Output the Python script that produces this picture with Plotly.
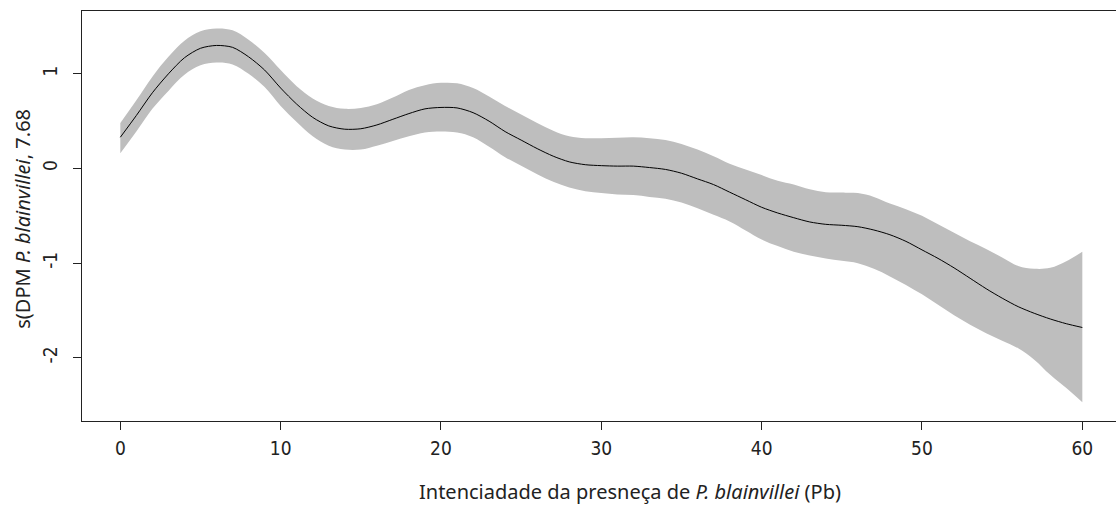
import plotly.graph_objects as go

# Mean smooth effect
x_mean = list(range(0, 61))
y_mean = [0.33, 0.56, 0.80, 1.00, 1.17, 1.27, 1.30, 1.28, 1.18, 1.04,
          0.85, 0.68, 0.54, 0.45, 0.415, 0.42, 0.46, 0.52, 0.58, 0.63,
          0.645, 0.64, 0.59, 0.50, 0.39, 0.30, 0.21, 0.13, 0.07, 0.04,
          0.03, 0.025, 0.025, 0.01, -0.01, -0.05, -0.11, -0.17, -0.25, -0.33,
          -0.41, -0.47, -0.52, -0.565, -0.59, -0.60, -0.615, -0.65, -0.70, -0.77,
          -0.86, -0.95, -1.05, -1.16, -1.27, -1.37, -1.46, -1.53, -1.59, -1.64,
          -1.68]

# Confidence band
x_band = list(range(0, 61))
y_upper = [0.48, 0.72, 0.97, 1.18, 1.35, 1.45, 1.48, 1.46, 1.36, 1.22,
           1.04, 0.87, 0.74, 0.66, 0.63, 0.64, 0.68, 0.75, 0.83, 0.88,
           0.905, 0.90, 0.85, 0.76, 0.66, 0.57, 0.48, 0.40, 0.34, 0.32,
           0.32, 0.325, 0.33, 0.32, 0.30, 0.26, 0.20, 0.13, 0.05, -0.01,
           -0.07, -0.13, -0.17, -0.22, -0.25, -0.255, -0.26, -0.30, -0.37, -0.43,
           -0.50, -0.59, -0.68, -0.77, -0.85, -0.94, -1.03, -1.06, -1.05, -0.98,
           -0.88]
y_lower = [0.16, 0.39, 0.63, 0.82, 0.99, 1.09, 1.12, 1.10, 1.00, 0.86,
           0.66, 0.49, 0.34, 0.24, 0.20, 0.20, 0.24, 0.29, 0.34, 0.38,
           0.39, 0.38, 0.33, 0.23, 0.12, 0.03, -0.06, -0.14, -0.20, -0.24,
           -0.26, -0.275, -0.28, -0.30, -0.32, -0.36, -0.42, -0.49, -0.56, -0.655,
           -0.75, -0.82, -0.88, -0.92, -0.95, -0.975, -1.00, -1.06, -1.14, -1.23,
           -1.33, -1.44, -1.55, -1.65, -1.74, -1.82, -1.90, -2.02, -2.18, -2.32,
           -2.47]

x_ticks = [0, 10, 20, 30, 40, 50, 60]
y_ticks = [-2, -1, 0, 1]

tick_font = dict(family="Liberation Sans Narrow, DejaVu Sans Condensed, Arial Narrow, sans-serif",
                 size=19, color="#222222")

fig = go.Figure()
fig.add_trace(go.Scatter(x=x_band, y=y_lower, mode="lines",
                         line=dict(width=0, shape="spline", smoothing=1),
                         hoverinfo="skip", showlegend=False))
fig.add_trace(go.Scatter(x=x_band, y=y_upper, mode="lines",
                         line=dict(width=0, shape="spline", smoothing=1),
                         fill="tonexty", fillcolor="#BEBEBE",
                         hoverinfo="skip", showlegend=False))
fig.add_trace(go.Scatter(x=x_mean, y=y_mean, mode="lines",
                         line=dict(color="black", width=1, shape="spline", smoothing=0.8),
                         showlegend=False))

fig.update_layout(
    width=1116, height=505,
    margin=dict(l=82, r=0, t=11, b=84),
    plot_bgcolor="white", paper_bgcolor="white",
    xaxis=dict(range=[-2.39, 62.1], tickvals=x_ticks, ticktext=[str(v) for v in x_ticks],
               showgrid=False, zeroline=False, showline=True, mirror=True,
               linecolor="#222222", linewidth=1,
               ticks="outside", ticklen=8, tickcolor="#222222", tickwidth=1,
               tickfont=tick_font, ticklabelstandoff=2),
    yaxis=dict(range=[-2.668, 1.664], tickvals=y_ticks, ticktext=[str(v) for v in y_ticks],
               showgrid=False, zeroline=False, showline=True, mirror=False,
               linecolor="#222222", linewidth=1,
               ticks="outside", ticklen=8, tickcolor="#222222", tickwidth=1,
               tickangle=-90, tickfont=tick_font, ticklabelstandoff=8),
    annotations=[
        dict(text="Intenciadade da presneça de <i>P. blainvillei</i> (Pb)",
             xref="paper", yref="paper", x=0.5295, y=-0.1716,
             xanchor="center", yanchor="middle", showarrow=False,
             font=dict(family="Noto Sans, Open Sans, sans-serif", size=20, color="#222222")),
        dict(text="s(DPM <i>P. blainvillei</i>, 7.68",
             xref="paper", yref="paper", x=-0.057, y=0.4935,
             xanchor="center", yanchor="middle", showarrow=False, textangle=-90,
             font=dict(family="Noto Sans, Open Sans, sans-serif", size=20, color="#222222")),
    ],
)

fig.write_html("out.html")
